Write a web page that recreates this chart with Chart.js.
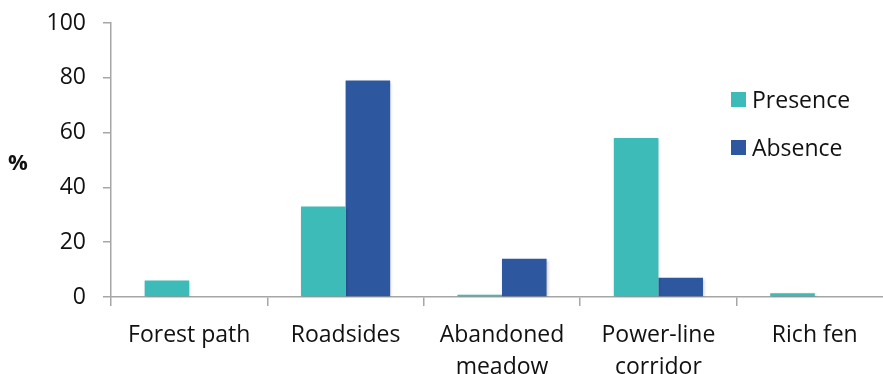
<!DOCTYPE html>
<html>
<head>
<meta charset="utf-8">
<script src="https://cdn.jsdelivr.net/npm/chart.js@4.4.1/dist/chart.umd.min.js"></script>
<style>
  html, body { margin: 0; padding: 0; background: #fff; overflow: hidden; }
  #wrap { width: 896px; height: 374px; }
</style>
</head>
<body>
<div id="wrap"><canvas id="c" width="896" height="374"></canvas></div>
<script>
// Habitat categories and share (%) of sites with presence / absence
const habitats = [
  'Forest path',
  'Roadsides',
  ['Abandoned', 'meadow'],
  ['Power-line', 'corridor'],
  'Rich fen'
];
const presence = [6, 33, 0.8, 58, 1.4];
const absence = [0, 79, 14, 7, 0];
const yTicks = [0, 20, 40, 60, 80, 100];

const FONT = '"Open Sans", "DejaVu Sans", sans-serif';
const FONT_SIZE = 23;
const AXIS_GREY = '#a6a6a6';

// Legend and the "%" axis caption are drawn by hand so they can sit freely
const sideLegend = {
  id: 'sideLegend',
  afterDraw(chart) {
    const ctx = chart.ctx;
    ctx.save();
    ctx.font = FONT_SIZE + 'px ' + FONT;
    ctx.textBaseline = 'middle';
    chart.data.datasets.forEach((ds, i) => {
      const y = 92 + i * 48;
      ctx.fillStyle = ds.backgroundColor;
      ctx.fillRect(731, y, 15, 15);
      ctx.fillStyle = '#111';
      ctx.fillText(ds.label, 752, y + 9);
    });
    ctx.fillStyle = '#111';
    ctx.font = 'bold 22px ' + FONT;
    ctx.textAlign = 'left';
    ctx.fillText('%', 8, 164);
    ctx.restore();
  }
};

// Soft drop shadow under the bars
const barShadow = {
  id: 'barShadow',
  beforeDatasetsDraw(chart) {
    const ctx = chart.ctx;
    ctx.save();
    ctx.shadowColor = 'rgba(0,0,0,0.22)';
    ctx.shadowBlur = 3;
    ctx.shadowOffsetX = 1;
    ctx.shadowOffsetY = 1;
  },
  afterDatasetsDraw(chart) {
    chart.ctx.restore();
  }
};

new Chart(document.getElementById('c'), {
  type: 'bar',
  data: {
    labels: habitats,
    datasets: [
      { label: 'Presence', data: presence, backgroundColor: '#3dbbb9' },
      { label: 'Absence', data: absence, backgroundColor: '#2d58a0' }
    ]
  },
  options: {
    responsive: false,
    animation: false,
    layout: { padding: { top: 23, right: 3, left: 0, bottom: 0 } },
    datasets: { bar: { categoryPercentage: 0.57, barPercentage: 1.0 } },
    plugins: { legend: { display: false }, tooltip: { enabled: false } },
    scales: {
      x: {
        grid: {
          display: true,
          offset: true,
          drawOnChartArea: false,
          drawTicks: true,
          tickLength: 9,
          color: AXIS_GREY,
          lineWidth: 1.5
        },
        border: { display: true, color: AXIS_GREY, width: 1.5 },
        ticks: {
          color: '#111',
          font: { family: FONT, size: FONT_SIZE, lineHeight: 1.37 },
          padding: 14,
          maxRotation: 0,
          autoSkip: false
        },
        afterFit(scale) {
          scale.height = 77;
          scale.paddingLeft = 0;
          scale.paddingRight = 0;
        }
      },
      y: {
        min: 0,
        max: 100,
        afterBuildTicks(scale) { scale.ticks = yTicks.map(v => ({ value: v })); },
        grid: {
          display: true,
          drawOnChartArea: false,
          drawTicks: true,
          tickLength: 8,
          color: AXIS_GREY,
          lineWidth: 1.5
        },
        border: { display: true, color: AXIS_GREY, width: 1.5 },
        ticks: {
          color: '#111',
          font: { family: FONT, size: FONT_SIZE },
          padding: 17
        },
        afterFit(scale) {
          scale.width = 111;
          scale.paddingTop = 0;
          scale.paddingBottom = 0;
        }
      }
    }
  },
  plugins: [barShadow, sideLegend]
});
</script>
</body>
</html>
